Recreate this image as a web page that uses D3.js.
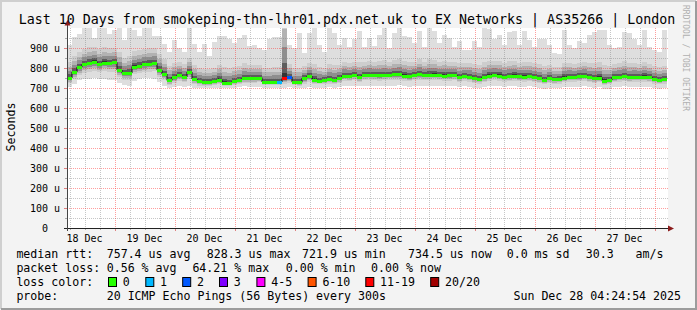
<!DOCTYPE html>
<html>
<head>
<meta charset="utf-8">
<script src="https://cdn.jsdelivr.net/npm/d3@7"></script>
<style>
body { margin: 0; background: #f3f3f3; }
text { font-family: "DejaVu Sans Mono", monospace; white-space: pre; fill: #000; }
</style>
</head>
<body>
<div id="chart"></div>
<script>
// 2 hour buckets, starting 18 Dec 05:00
var startTime = Date.UTC(2025, 11, 18, 5);
var stepHours = 2;

// median rtt, microseconds
var rttMedian = [
  750, 780, 805, 818, 825, 832, 820, 827, 825, 828,
  790, 773, 775, 807, 810, 818, 820, 823, 790, 770,
  738, 755, 765, 755, 780, 745, 733, 728, 730, 733,
  742, 727, 725, 733, 740, 750, 750, 748, 752, 730,
  730, 730, 730, 748, 755, 730, 728, 750, 760, 742,
  737, 740, 743, 740, 748, 762, 760, 765, 755, 765,
  767, 765, 763, 765, 766, 768, 770, 762, 758, 765,
  768, 765, 765, 767, 765, 762, 763, 765, 755, 762,
  757, 750, 745, 755, 762, 767, 762, 757, 760, 762,
  758, 757, 760, 753, 748, 740, 748, 743, 745, 752,
  757, 757, 758, 762, 753, 748, 752, 737, 740, 753,
  757, 760, 755, 757, 757, 757, 755, 745, 742, 745
];
var rttMax = [
  915, 957, 970, 1000, 1000, 950, 1000, 1000, 970, 990,
  1000, 940, 1000, 990, 960, 1000, 1000, 960, 960, 920,
  880, 940, 900, 880, 1000, 920, 880, 920, 860, 930,
  960, 958, 945, 925, 950, 965, 908, 915, 900, 890,
  945, 955, 955, 1000, 915, 900, 975, 875, 975, 1000,
  915, 880, 1000, 975, 915, 950, 905, 945, 985, 905,
  950, 910, 965, 1000, 900, 975, 1000, 960, 955, 925,
  985, 905, 1000, 985, 925, 965, 950, 905, 935, 890,
  890, 935, 905, 1000, 995, 945, 965, 915, 978, 985,
  915, 985, 940, 905, 945, 945, 915, 875, 870, 990,
  915, 898, 935, 925, 965, 980, 990, 990, 915, 898,
  905, 980, 975, 945, 915, 990, 905, 890, 880, 990
];
var rttHigh = [
  830, 860, 880, 895, 905, 905, 895, 905, 900, 900,
  880, 850, 860, 885, 890, 895, 900, 900, 870, 845,
  810, 825, 830, 820, 850, 815, 800, 795, 795, 800,
  815, 805, 800, 805, 810, 825, 815, 815, 815, 800,
  800, 805, 805, 1100, 820, 800, 800, 810, 825, 820,
  805, 800, 820, 815, 815, 830, 825, 830, 830, 830,
  835, 830, 835, 840, 830, 840, 845, 835, 830, 830,
  845, 830, 845, 840, 830, 835, 830, 830, 825, 825,
  825, 820, 815, 830, 835, 835, 835, 825, 835, 835,
  825, 830, 830, 825, 820, 810, 815, 805, 805, 825,
  825, 820, 825, 830, 825, 825, 830, 815, 810, 820,
  825, 835, 825, 825, 820, 830, 820, 810, 805, 810
];
var rttLow = [
  725, 745, 765, 775, 780, 785, 780, 785, 780, 782,
  755, 740, 740, 770, 775, 780, 782, 785, 755, 740,
  715, 725, 735, 728, 745, 720, 712, 710, 712, 713,
  720, 712, 710, 715, 718, 725, 725, 725, 728, 713,
  713, 713, 713, 720, 725, 713, 712, 722, 730, 720,
  718, 720, 722, 720, 725, 735, 735, 738, 730, 738,
  740, 738, 737, 738, 740, 740, 742, 737, 733, 738,
  740, 738, 738, 740, 738, 735, 736, 738, 730, 735,
  732, 725, 722, 730, 735, 740, 736, 732, 734, 736,
  733, 732, 734, 730, 725, 718, 725, 720, 722, 728,
  732, 732, 733, 736, 730, 725, 728, 715, 718, 728,
  732, 735, 730, 732, 732, 732, 730, 722, 720, 722
];
var rttMin = [
  705, 720, 738, 745, 745, 748, 745, 745, 742, 742,
  725, 715, 712, 735, 745, 748, 748, 745, 730, 712,
  700, 705, 708, 705, 708, 700, 698, 700, 700, 700,
  702, 700, 698, 700, 705, 708, 706, 705, 706, 700,
  700, 700, 700, 700, 705, 700, 698, 702, 705, 702,
  700, 702, 703, 702, 705, 710, 710, 712, 708, 710,
  712, 710, 710, 712, 712, 712, 714, 710, 706, 710,
  712, 710, 710, 712, 710, 708, 708, 710, 704, 708,
  705, 700, 698, 704, 708, 712, 710, 706, 708, 710,
  706, 706, 708, 704, 700, 696, 700, 698, 700, 704,
  706, 706, 706, 710, 704, 700, 704, 694, 696, 704,
  706, 708, 705, 706, 706, 706, 704, 698, 696, 698
];
// buckets with lost pings (of 20)
var lossBins = [42, 43, 44];
var lossCounts = [1, 13, 2];

var lossLabels = ["0", "1", "2", "3", "4-5", "6-10", "11-19", "20/20"];
var lossLimits = [0, 1, 2, 3, 5, 10, 19, 20];
var lossColors = ["#26ff00", "#00b8ff", "#0059ff", "#7e00ff", "#ff00ff", "#ff5500", "#ff0000", "#a10000"];

var yTicks = [0, 100, 200, 300, 400, 500, 600, 700, 800, 900];

var titleText = "Last 10 Days from smokeping-thn-lhr01.pdx.net.uk to EX Networks | AS35266 | London";
var legendRtt = ["median rtt:", "757.4 us avg", "828.3 us max", "721.9 us min", "734.5 us now", "0.0 ms sd", "30.3", "am/s"];
var legendLoss = ["packet loss:", "0.56 % avg", "64.21 % max", "0.00 % min", "0.00 % now"];
var probeText = ["probe:", "20 ICMP Echo Pings (56 Bytes) every 300s"];
var dateText = "Sun Dec 28 04:24:54 2025";

var W = 697, H = 310;
var svg = d3.select("#chart").append("svg")
    .attr("width", W)
    .attr("height", H);

var x = d3.scaleUtc()
    .domain([new Date(startTime), new Date(startTime + 240 * 3600e3)])
    .range([67, 667]);
var y = d3.scaleLinear().domain([0, 1000]).range([228, 28]);

// frame
svg.append("rect").attr("width", W).attr("height", H).attr("fill", "#f3f3f3");
svg.append("path").attr("d", "M1,309V1H696").attr("fill", "none").attr("stroke", "#cfcfcf").attr("stroke-width", 2);
svg.append("path").attr("d", "M1,309H696V1").attr("fill", "none").attr("stroke", "#9c9c9c").attr("stroke-width", 2);

svg.append("rect")
    .attr("x", 67).attr("y", 28)
    .attr("width", 601).attr("height", 200)
    .attr("fill", "#fff");

svg.append("defs").append("clipPath").attr("id", "clip")
    .append("rect").attr("x", 67).attr("y", 28).attr("width", 601).attr("height", 200);

var bins = rttMedian.map(function (m, i) {
    var t0 = new Date(startTime + i * stepHours * 3600e3);
    var t1 = new Date(startTime + (i + 1) * stepHours * 3600e3);
    var li = lossBins.indexOf(i);
    return {t0: t0, t1: t1, med: m, max: rttMax[i], min: rttMin[i],
            high: rttHigh[i], low: rttLow[i], loss: li < 0 ? 0 : lossCounts[li]};
});

var smoke = svg.append("g").attr("clip-path", "url(#clip)").attr("shape-rendering", "crispEdges");

// outer smoke
smoke.selectAll(".outer").data(bins).enter().append("rect")
    .attr("x", function (d) { return x(d.t0); })
    .attr("width", function (d) { return x(d.t1) - x(d.t0); })
    .attr("y", function (d) { return y(d.max); })
    .attr("height", function (d) { return y(d.min) - y(d.max); })
    .attr("fill", "#dedede");

// inner smoke, shaded darker towards the median
var shades = [[0, "#cdcdcd"], [0.3, "#b2b2b2"], [0.55, "#8e8e8e"], [0.78, "#5c5c5c"], [0.92, "#333333"]];
shades.forEach(function (s) {
    var f = s[0];
    smoke.selectAll(null).data(bins).enter().append("rect")
        .attr("x", function (d) { return x(d.t0); })
        .attr("width", function (d) { return x(d.t1) - x(d.t0); })
        .attr("y", function (d) { return y(d.high - (d.high - d.med) * f); })
        .attr("height", function (d) {
            return y(d.low + (d.med - d.low) * f) - y(d.high - (d.high - d.med) * f);
        })
        .attr("fill", s[1]);
});

// grid
var grid = svg.append("g").attr("shape-rendering", "crispEdges");
var minorY = d3.range(50, 1000, 50).filter(function (v) { return v % 100; });
var majorY = d3.range(100, 1000, 100);
grid.selectAll(".gy").data(minorY).enter().append("line")
    .attr("x1", 67).attr("x2", 668)
    .attr("y1", function (d) { return y(d) + 0.5; })
    .attr("y2", function (d) { return y(d) + 0.5; })
    .attr("stroke", "rgba(128,128,128,0.45)").attr("stroke-dasharray", "1,1");
var hours6 = d3.utcHour.every(6).range(x.domain()[0], x.domain()[1]).filter(function (d) { return d.getUTCHours() !== 0; });
var days = d3.utcDay.range(x.domain()[0], x.domain()[1]);
var labelDays = d3.utcDay.range(d3.utcDay.floor(x.domain()[0]), x.domain()[1])
    .filter(function (d) { return d3.utcHour.offset(d, 12) < x.domain()[1]; });
grid.selectAll(".gx").data(hours6).enter().append("line")
    .attr("x1", function (d) { return Math.round(x(d)) + 0.5; })
    .attr("x2", function (d) { return Math.round(x(d)) + 0.5; })
    .attr("y1", 28).attr("y2", 228)
    .attr("stroke", "rgba(128,128,128,0.45)").attr("stroke-dasharray", "1,1");
grid.selectAll(".my").data(majorY).enter().append("line")
    .attr("x1", 67).attr("x2", 668)
    .attr("y1", function (d) { return y(d) + 0.5; })
    .attr("y2", function (d) { return y(d) + 0.5; })
    .attr("stroke", "rgba(255,40,40,0.45)").attr("stroke-dasharray", "1,1");
grid.selectAll(".mx").data(days).enter().append("line")
    .attr("x1", function (d) { return Math.round(x(d)) + 0.5; })
    .attr("x2", function (d) { return Math.round(x(d)) + 0.5; })
    .attr("y1", 28).attr("y2", 228)
    .attr("stroke", "rgba(255,40,40,0.45)").attr("stroke-dasharray", "1,1");

// ticks outside the axes
grid.selectAll(".ty").data(minorY.concat(majorY)).enter().append("line")
    .attr("x1", function (d) { return d % 100 ? 65 : 64; }).attr("x2", 67)
    .attr("y1", function (d) { return y(d) + 0.5; })
    .attr("y2", function (d) { return y(d) + 0.5; })
    .attr("stroke", function (d) { return d % 100 ? "#aaa" : "#e08080"; });
grid.selectAll(".tx").data(hours6.concat(days)).enter().append("line")
    .attr("x1", function (d) { return Math.round(x(d)) + 0.5; })
    .attr("x2", function (d) { return Math.round(x(d)) + 0.5; })
    .attr("y1", 228)
    .attr("y2", function (d) { return d.getUTCHours() ? 230 : 231; })
    .attr("stroke", function (d) { return d.getUTCHours() ? "#aaa" : "#e08080"; });

// median: dark step joins, then loss coloured bars
var stepPts = bins.map(function (d) { return [x(d.t0), y(d.med)]; });
stepPts.push([x(bins[bins.length - 1].t1), y(bins[bins.length - 1].med)]);
svg.append("path")
    .attr("d", d3.line().curve(d3.curveStepAfter)(stepPts))
    .attr("fill", "none").attr("stroke", "#111").attr("stroke-width", 1);

function lossColor(n) {
    for (var k = 0; k < lossLimits.length; k++) if (n <= lossLimits[k]) return lossColors[k];
    return lossColors[lossColors.length - 1];
}
svg.append("g").attr("shape-rendering", "crispEdges")
    .selectAll("rect").data(bins).enter().append("rect")
    .attr("x", function (d) { return x(d.t0); })
    .attr("width", function (d) { return x(d.t1) - x(d.t0); })
    .attr("y", function (d) { return Math.round(y(d.med)) - 1; })
    .attr("height", 3)
    .attr("fill", function (d) { return lossColor(d.loss); });

// axes
svg.append("line").attr("x1", 64).attr("x2", 669).attr("y1", 228.5).attr("y2", 228.5)
    .attr("stroke", "#222");
svg.append("line").attr("x1", 67.5).attr("x2", 67.5).attr("y1", 231).attr("y2", 25)
    .attr("stroke", "#444");
svg.append("path").attr("d", "M64.5,25.5L70.5,25.5L67.5,20z").attr("fill", "#8b1c1c");
svg.append("path").attr("d", "M668,225.5L668,231.5L674,228.5z").attr("fill", "#8b1c1c");

// y labels
svg.append("g").selectAll("text").data(yTicks).enter().append("text")
    .attr("x", 60)
    .attr("y", function (d) { return y(d); })
    .attr("dy", "0.36em")
    .attr("text-anchor", "end")
    .style("font-size", "10px")
    .text(function (d) { return d === 0 ? "0  " : d + " u"; });

// x labels at noon
var fmt = d3.utcFormat("%d %b");
svg.append("g").selectAll("text").data(labelDays).enter().append("text")
    .attr("x", function (d) { return x(d3.utcHour.offset(d, 12)); })
    .attr("y", 241.5)
    .attr("text-anchor", "middle")
    .style("font-size", "10px")
    .text(function (d) { return fmt(d); });

// titles
svg.append("text").attr("x", 347).attr("y", 23.5).attr("text-anchor", "middle")
    .style("font-size", "13.3px").text(titleText);
svg.append("text").attr("transform", "translate(15,127) rotate(-90)").attr("text-anchor", "middle")
    .style("font-size", "11.6px").text("Seconds");
svg.append("text").attr("transform", "translate(683,5) rotate(90)")
    .style("font-size", "8px").style("fill", "#b0b0b0").text("RRDTOOL / TOBI OETIKER");

// legend
var legend = svg.append("g").style("font-size", "11.6px");
var rttX = [16.4, 106.7, 206.7, 302, 408, 506.7, 585.8, 635.6];
legendRtt.forEach(function (s, i) {
    legend.append("text").attr("x", rttX[i]).attr("y", 258).text(s);
});
var lossX = [16.4, 106.7, 192.4, 285.8, 371.1];
legendLoss.forEach(function (s, i) {
    legend.append("text").attr("x", lossX[i]).attr("y", 272).text(s);
});
legend.append("text").attr("x", 16.4).attr("y", 286).text("loss color:");
var boxX = [108, 145.3, 182.2, 219, 256.4, 307.6, 365.3, 430.2];
lossLabels.forEach(function (s, i) {
    legend.append("rect").attr("x", boxX[i] + 0.5).attr("y", 277.5)
        .attr("width", 8).attr("height", 9)
        .attr("fill", lossColors[i]).attr("stroke", "#000");
    legend.append("text").attr("x", boxX[i] + 14.8).attr("y", 286).text(s);
});
legend.append("text").attr("x", 16.4).attr("y", 300).text(probeText[0]);
legend.append("text").attr("x", 106.7).attr("y", 300).text(probeText[1]);
legend.append("text").attr("x", 681).attr("y", 300).attr("text-anchor", "end").text(dateText);
</script>
</body>
</html>
